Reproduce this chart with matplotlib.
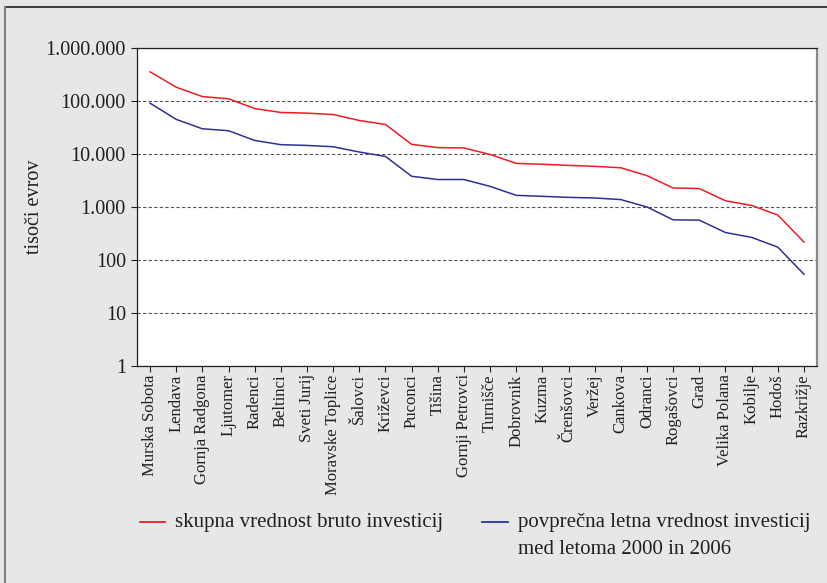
import numpy as np
import matplotlib
matplotlib.use("Agg")
import matplotlib.pyplot as plt
from matplotlib.lines import Line2D
from matplotlib.ticker import FuncFormatter, NullLocator, FixedLocator

# Data (tisoči evrov)
obcine = ["Murska Sobota", "Lendava", "Gornja Radgona", "Ljutomer", "Radenci",
          "Beltinci", "Sveti Jurij", "Moravske Toplice", "Šalovci", "Križevci",
          "Puconci", "Tišina", "Gornji Petrovci", "Turnišče", "Dobrovnik",
          "Kuzma", "Črenšovci", "Veržej", "Cankova", "Odranci", "Rogašovci",
          "Grad", "Velika Polana", "Kobilje", "Hodoš", "Razkrižje"]

skupna = [355000, 182000, 121000, 110000, 72000, 60800, 59000, 55600, 42900,
          36000, 15200, 13200, 13000, 9800, 6650, 6400, 6100, 5850, 5500,
          3900, 2280, 2230, 1310, 1070, 705, 218]

povprecna = [91000, 45000, 29900, 27500, 18000, 15000, 14500, 13700, 10900,
             9000, 3800, 3300, 3300, 2450, 1660, 1590, 1520, 1480, 1380,
             1000, 573, 565, 330, 267, 175, 54]

y_ticks = [1, 10, 100, 1000, 10000, 100000, 1000000]

label_skupna = "skupna vrednost bruto investicij"
label_povp = "povprečna letna vrednost investicij\nmed letoma 2000 in 2006"

# Style
plt.rcParams["font.family"] = ["Liberation Serif", "DejaVu Serif"]
bg = "#e6e7e8"
red = "#ed1c24"
blue = "#2e3192"
dark = "#231f20"

W, H = 828, 583
fig = plt.figure(figsize=(W / 100, H / 100), dpi=100, facecolor=bg)
ax = fig.add_axes([137 / W, 1 - 366 / H, (817 - 137) / W, (366 - 48) / H])
ax.set_facecolor("white")

x = np.arange(len(obcine)) + 0.5
ax.plot(x, skupna, color=red, linewidth=1.1, zorder=3)
ax.plot(x, povprecna, color=blue, linewidth=1.1, zorder=3)

# Axes
ax.set_yscale("log")
ax.set_ylim(1, 1000000)
ax.set_xlim(0, len(obcine))
ax.yaxis.set_major_locator(FixedLocator(y_ticks))
ax.yaxis.set_minor_locator(NullLocator())
ax.yaxis.set_major_formatter(FuncFormatter(lambda v, p: f"{int(round(v)):,}".replace(",", ".")))
ax.set_xticks(x)
ax.set_xticklabels(obcine, rotation=90, fontsize=12, color=dark)
ax.tick_params(axis="y", labelsize=14.5, length=4, width=0.8, pad=4, colors=dark)
ax.tick_params(axis="x", length=4, width=0.8, pad=2, colors=dark)

ax.yaxis.grid(True, linestyle=(0, (3, 2)), color="#555555", linewidth=0.8)
ax.set_axisbelow(True)

for s in ["left", "top", "bottom"]:
    ax.spines[s].set_color(dark)
    ax.spines[s].set_linewidth(0.9)
ax.spines["right"].set_color("#8a8a8a")
ax.spines["right"].set_linewidth(1.6)
ax.spines["right"].set_capstyle("butt")

ax.set_ylabel("tisoči evrov", fontsize=14.5, color=dark)
ax.yaxis.set_label_coords(-0.137, 0.5)

# Legend drawn by hand, below the plot
def fx(px):
    return px / W

def fy(py):
    return 1 - py / H

fig.add_artist(Line2D([fx(140), fx(165)], [fy(522), fy(522)], color=red, linewidth=1.3))
fig.text(fx(175), fy(522), label_skupna, fontsize=15, color=dark, va="center")
fig.add_artist(Line2D([fx(482), fx(508)], [fy(522), fy(522)], color=blue, linewidth=1.3))
fig.text(fx(518), fy(513), label_povp, fontsize=15, color=dark, va="top", linespacing=1.55)

# Frame of the figure
fig.add_artist(Line2D([fx(5), 1], [fy(7), fy(7)], color=dark, linewidth=1.2))
fig.add_artist(Line2D([fx(5), fx(5)], [0, fy(7)], color="#808080", linewidth=1.5))

fig.savefig("out.png", dpi=100, facecolor=bg)
